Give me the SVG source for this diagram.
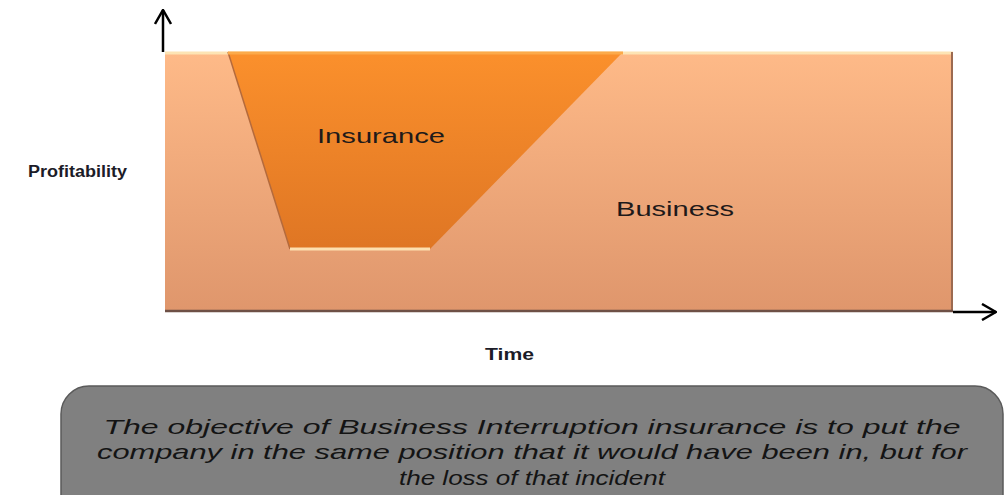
<svg xmlns="http://www.w3.org/2000/svg" width="1005" height="495" viewBox="0 0 1005 495">
<style>
.lbl{font-family:"Liberation Sans",Arial,sans-serif;fill:#1e1a1a}
.axis{font-family:"Liberation Sans",Arial,sans-serif;font-weight:bold;fill:#1c1c28}
.note{font-family:"Liberation Sans",Arial,sans-serif;font-style:italic;fill:#141414;font-size:21px}
.conn{stroke:#000;stroke-width:2.5;fill:none}
</style>
<defs>
<linearGradient id="biz" x1="0" y1="0" x2="0" y2="1">
<stop offset="0" stop-color="#feba88"/>
<stop offset="1" stop-color="#df966c"/>
</linearGradient>
<linearGradient id="ins" x1="0" y1="0" x2="0" y2="1">
<stop offset="0" stop-color="#fb902c"/>
<stop offset="1" stop-color="#df7624"/>
</linearGradient>
<marker id="chev" viewBox="0 0 16 18" refX="15" refY="9" markerWidth="16" markerHeight="18" markerUnits="userSpaceOnUse" orient="auto">
<path d="M1,1 L15,9 L1,17" fill="none" stroke="#000" stroke-width="2.5"/>
</marker>
</defs>
<g id="business">
<rect x="165" y="52" width="788" height="260" fill="url(#biz)"/>
<line x1="165" y1="53" x2="953" y2="53" stroke="#fde4b4" stroke-width="3"/>
<line x1="952" y1="52" x2="952" y2="312" stroke="#9c6a50" stroke-width="2"/>
<line x1="165" y1="311" x2="953" y2="311" stroke="#6e5046" stroke-width="2.5"/>
<text class="lbl" x="616" y="216" font-size="21" textLength="118" lengthAdjust="spacingAndGlyphs">Business</text>
</g>
<g id="insurance">
<polygon points="228,52 623,52 430,249 290,249" fill="url(#ins)"/>
<line x1="228" y1="52" x2="290" y2="249" stroke="#b46a3c" stroke-width="1.5"/>
<line x1="290" y1="249" x2="430" y2="249" stroke="#fde0b0" stroke-width="3"/>
<line x1="228" y1="53" x2="623" y2="53" stroke="#fcaa4a" stroke-width="3"/>
<text class="lbl" x="317" y="143" font-size="21" textLength="128" lengthAdjust="spacingAndGlyphs">Insurance</text>
</g>
<g id="axis-labels">
<text class="axis" x="28" y="177" font-size="16" textLength="99" lengthAdjust="spacingAndGlyphs">Profitability</text>
<text class="axis" x="485" y="360" font-size="17" textLength="49" lengthAdjust="spacingAndGlyphs">Time</text>
</g>
<g id="connectors">
<line class="conn" x1="163" y1="52" x2="163" y2="10" marker-end="url(#chev)"/>
<line class="conn" x1="953" y1="312" x2="996" y2="312" marker-end="url(#chev)"/>
</g>
<g id="note">
<rect x="61" y="386" width="942" height="140" rx="28" ry="28" fill="#808080" stroke="#5a5a5a" stroke-width="1.5"/>
<text class="note" x="532" y="434" text-anchor="middle" textLength="857" lengthAdjust="spacingAndGlyphs">The objective of Business Interruption insurance is to put the</text>
<text class="note" x="532" y="459" text-anchor="middle" textLength="870" lengthAdjust="spacingAndGlyphs">company in the same position that it would have been in, but for</text>
<text class="note" x="532" y="485" text-anchor="middle" textLength="266" lengthAdjust="spacingAndGlyphs">the loss of that incident</text>
</g>
</svg>
